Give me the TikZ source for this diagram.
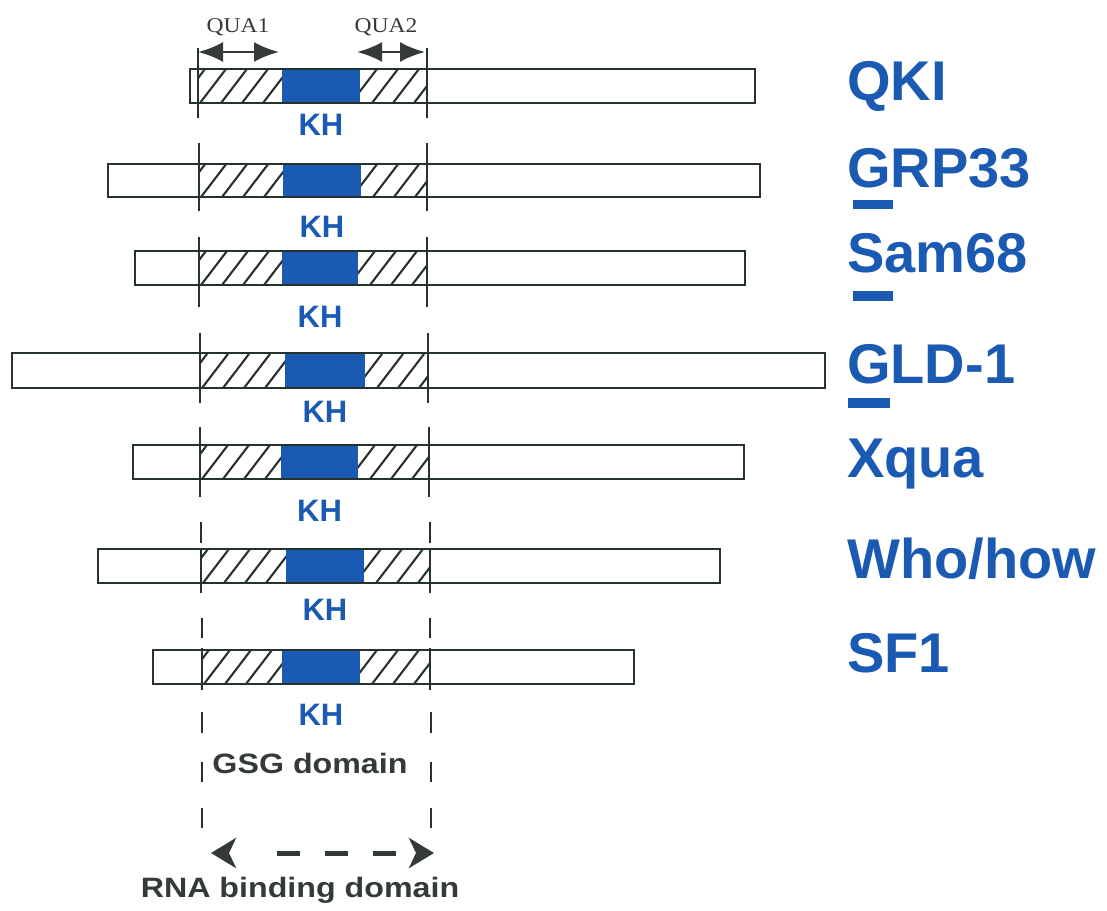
\documentclass[tikz,border=0pt]{standalone}
\usepackage{fontspec}
\setmainfont{Liberation Sans}
\newfontfamily\quafont{Liberation Serif}
\usetikzlibrary{arrows.meta}
\definecolor{kblue}{RGB}{26,90,178}
\definecolor{edgec}{RGB}{38,50,44}
\definecolor{dgray}{RGB}{52,58,58}
\newcommand\whohowname{Who/how}
\tikzset{
  protbox/.style={draw=edgec, line width=2.4pt},
  khblock/.style={fill=kblue, draw=none},
  hatchline/.style={draw=edgec, line width=2.1pt},
  tickline/.style={draw=edgec, line width=1.8pt},
  protname/.style={anchor=base west, text=kblue, inner sep=0pt,
    font=\fontsize{56}{56}\selectfont\bfseries},
  khlabel/.style={anchor=base, text=kblue, inner sep=0pt,
    font=\fontsize{31}{31}\selectfont\bfseries},
  qualabel/.style={anchor=base, text=dgray, inner sep=0pt, xscale=1.12,
    font=\fontsize{21}{21}\selectfont\quafont},
  domlabel/.style={anchor=base, text=dgray, inner sep=0pt, xscale=1.15,
    font=\fontsize{28}{28}\selectfont\bfseries},
  quaarrow/.style={draw=dgray, line width=2.5pt,
    {Latex[length=25pt,width=20pt]}-{Latex[length=25pt,width=20pt]}},
  bigtips/.style={draw=dgray, line width=5pt, dash pattern=on 0pt off 2000pt,
    {Stealth[length=25pt,width=30pt,inset=7pt]}-{Stealth[length=25pt,width=30pt,inset=7pt]}},
  dashpart/.style={draw=dgray, line width=5pt, dash pattern=on 23pt off 25pt},
  ubar/.style={fill=kblue, draw=none}
}
\begin{document}
\begin{tikzpicture}[x=1pt,y=-1pt]
\useasboundingbox (0,0) rectangle (1107,910);

% rows: L/R/T/B/blue-left/blue-right/left-line/right-line/KH baseline/name baseline/name/id
\foreach \L/\R/\T/\B/\bl/\br/\vl/\vr/\kh/\nb/\nm/\id in {
  190/755/69/103/282/360/198/427/135/100/QKI/a,
  108/760/164/197/283/361/199/427/237/187/GRP33/b,
  135/745/251/285/282/358/199/427/327/272/Sam68/c,
  12/825/353/388/285/365/200/428/422/383/GLD-1/d,
  133/744/445/479/281/358/200/429/521/477/Xqua/e,
  98/720/549/583/286/364/201/430/620/578/\whohowname/f,
  153/634/650/684/282/360/202/430/725/672/SF1/g}
{
  \begin{scope}
    \clip (\vl,\T) rectangle (\bl,\B);
    \foreach \s in {-40,-19,...,120}
      \draw[hatchline] (\vl+\s,\B) -- ++(26,-34);
  \end{scope}
  \begin{scope}
    \clip (\br,\T) rectangle (\vr,\B);
    \foreach \s in {-30,-9,...,110}
      \draw[hatchline] (\br+\s,\B) -- ++(26,-34);
  \end{scope}
  \fill[khblock] (\bl,\T) rectangle (\br,\B);
  \draw[protbox] (\L,\T) rectangle (\R,\B);
  \node[khlabel] (kh\id) at ({(\bl+\br)/2},\kh) {KH};
  \node[protname] (name\id) at (847,\nb) {\nm};
}

% vertical boundary ticks, rows QKI..Xqua
\foreach \T/\B/\vl/\vr in {48/118/198/427, 143/211/199/427, 237/307/199/427,
  333/403/200/428, 427/497/200/429}
{
  \draw[tickline] (\vl,\T) -- (\vl,\B);
  \draw[tickline] (\vr,\T) -- (\vr,\B);
}
% dashed part below
\foreach \T/\B/\vl/\vr in {522/543/201/430, 548/593/201/430, 618/638/202/430,
  648/690/202/430, 712/733/202/431, 762/782/202/431, 808/828/202/431}
{
  \draw[tickline] (\vl,\T) -- (\vl,\B);
  \draw[tickline] (\vr,\T) -- (\vr,\B);
}

% underline bars under initials
\fill[ubar] (853,200) rectangle (893,209);
\fill[ubar] (853,291) rectangle (893,301);
\fill[ubar] (848,398) rectangle (890,408);

% QUA labels and arrows
\node[qualabel] (qua1) at (238,32) {QUA1};
\node[qualabel] (qua2) at (386,32) {QUA2};
\coordinate (q1a) at (198,52);
\coordinate (q1b) at (279,52);
\coordinate (q2a) at (357,52);
\coordinate (q2b) at (425,52);
\draw[quaarrow] (q1a) -- (q1b);
\draw[quaarrow] (q2a) -- (q2b);

% domain labels
\node[domlabel] (gsg) at (310,773) {GSG domain};
\node[domlabel] (rna) at (300,897) {RNA binding domain};

% RNA binding domain arrow
\coordinate (ra) at (211,853);
\coordinate (rb) at (434,853);
\coordinate (da) at (277,853);
\coordinate (db) at (398,853);
\draw[bigtips] (ra) -- (rb);
\draw[dashpart] (da) -- (db);
\end{tikzpicture}
\end{document}
